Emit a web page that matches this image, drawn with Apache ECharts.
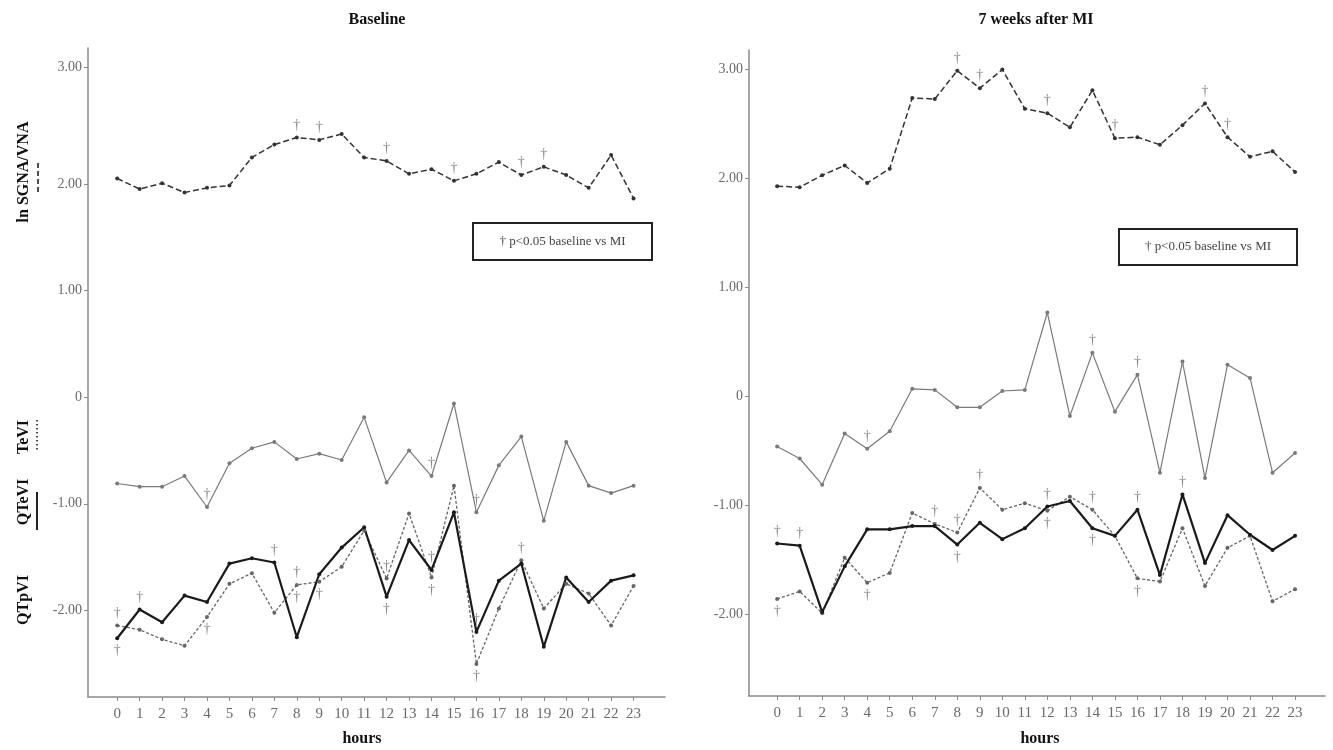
<!DOCTYPE html>
<html>
<head>
<meta charset="utf-8">
<script src="https://cdn.jsdelivr.net/npm/echarts@6/dist/echarts.min.js"></script>
<style>
  html, body { margin: 0; padding: 0; background: #fff; }
  #chart { width: 1333px; height: 750px; }
</style>
</head>
<body>
<div id="chart"></div>
<script>
// Hours of the day (x axis)
const hours = Array.from({ length: 24 }, (_, i) => i);

// Baseline
const baseSgna  = [2.05, 1.96, 2.01, 1.93, 1.97, 1.99, 2.23, 2.34, 2.40, 2.38, 2.43, 2.23, 2.20, 2.09, 2.13, 2.03, 2.09, 2.19, 2.08, 2.15, 2.08, 1.97, 2.25, 1.88];
const baseTeVI  = [-0.81, -0.84, -0.84, -0.74, -1.03, -0.62, -0.48, -0.42, -0.58, -0.53, -0.59, -0.19, -0.80, -0.50, -0.74, -0.06, -1.08, -0.64, -0.37, -1.16, -0.42, -0.83, -0.90, -0.83];
const baseQTeVI = [-2.26, -1.99, -2.11, -1.86, -1.92, -1.56, -1.51, -1.55, -2.25, -1.66, -1.41, -1.22, -1.87, -1.34, -1.62, -1.08, -2.20, -1.72, -1.56, -2.34, -1.69, -1.92, -1.72, -1.67];
const baseQTpVI = [-2.14, -2.18, -2.27, -2.33, -2.06, -1.75, -1.65, -2.02, -1.76, -1.73, -1.59, -1.25, -1.70, -1.09, -1.69, -0.83, -2.50, -1.98, -1.53, -1.98, -1.75, -1.84, -2.14, -1.77];

// 7 weeks after MI
const miSgna  = [1.93, 1.92, 2.03, 2.12, 1.96, 2.09, 2.74, 2.73, 2.99, 2.83, 3.00, 2.64, 2.60, 2.47, 2.81, 2.37, 2.38, 2.31, 2.49, 2.69, 2.38, 2.20, 2.25, 2.06];
const miTeVI  = [-0.46, -0.57, -0.81, -0.34, -0.48, -0.32, 0.07, 0.06, -0.10, -0.10, 0.05, 0.06, 0.77, -0.18, 0.40, -0.14, 0.20, -0.70, 0.32, -0.75, 0.29, 0.17, -0.70, -0.52];
const miQTeVI = [-1.35, -1.37, -1.98, -1.56, -1.22, -1.22, -1.19, -1.19, -1.36, -1.16, -1.31, -1.21, -1.01, -0.96, -1.21, -1.28, -1.04, -1.64, -0.90, -1.53, -1.09, -1.27, -1.41, -1.28];
const miQTpVI = [-1.86, -1.79, -1.99, -1.48, -1.71, -1.62, -1.07, -1.17, -1.25, -0.84, -1.04, -0.98, -1.05, -0.92, -1.04, -1.28, -1.67, -1.70, -1.21, -1.74, -1.39, -1.28, -1.88, -1.77];

// Hours marked † (p<0.05 baseline vs MI), placed above or below a series point
const baseSgnaSigAbove  = [8, 9, 12, 15, 18, 19];
const baseTeVISigAbove  = [4, 14, 16];
const baseQTeVISigAbove = [1, 7, 14, 16];
const baseQTeVISigBelow = [0, 12];
const baseQTpVISigAbove = [0, 8, 12, 18];
const baseQTpVISigBelow = [4, 8, 9, 14, 16];

const miSgnaSigAbove  = [8, 9, 12, 15, 19, 20];
const miTeVISigAbove  = [4, 14, 16];
const miQTeVISigAbove = [0, 1, 12, 16, 18];
const miQTeVISigBelow = [8, 14];
const miQTpVISigAbove = [7, 8, 9, 14];
const miQTpVISigBelow = [0, 4, 12, 16];

// Axis tick labels
const xTicks = hours;
const baseYTicksUpper = [3, 2];
const baseYTicksLower = [1, 0, -1, -2];
const miYTicks = [3, 2, 1, 0, -1, -2];

const panelTitles = ['Baseline', '7 weeks after MI'];
const noteText = '† p<0.05 baseline vs MI';

const SERIF = '"Liberation Serif", "DejaVu Serif", "Times New Roman", serif';
const AXIS_GREY = '#8a8a8a';
const LABEL_GREY = '#6a6a6a';

const fmtY = v => (v === 0 ? '0' : v.toFixed(2));
const pairs = vals => vals.map((v, i) => [hours[i], v]);

const styles = {
  sgna:  { color: '#333', width: 1.5, type: [6, 3] },
  tevi:  { color: '#7a7a7a', width: 1.2, type: 'solid' },
  qtevi: { color: '#1a1a1a', width: 2.2, type: 'solid' },
  qtpvi: { color: '#666', width: 1.3, type: [3, 2] }
};

function lineSeries(name, vals, st, xi, yi) {
  return {
    name, type: 'line', xAxisIndex: xi, yAxisIndex: yi,
    data: pairs(vals),
    symbol: 'circle', symbolSize: 4,
    itemStyle: { color: st.color },
    lineStyle: { color: st.color, width: st.width, type: st.type },
    z: 3, animation: false
  };
}

function daggerSeries(vals, sigHours, where, xi, yi) {
  return {
    type: 'scatter', xAxisIndex: xi, yAxisIndex: yi,
    data: sigHours.map(h => [h, vals[h]]),
    symbol: 'circle', symbolSize: 1,
    itemStyle: { color: 'rgba(0,0,0,0)' },
    label: {
      show: true, formatter: '†', position: where === 'above' ? 'top' : 'bottom',
      distance: 5, fontFamily: SERIF, fontSize: 14, color: '#666'
    },
    silent: true, z: 4, animation: false
  };
}

function xAxisFor(gi, min, max) {
  return {
    type: 'value', gridIndex: gi, min, max,
    axisLine: { show: true, onZero: false, lineStyle: { color: AXIS_GREY, width: 1.5 } },
    axisTick: { show: true, customValues: xTicks, length: 4, lineStyle: { color: AXIS_GREY } },
    axisLabel: { customValues: xTicks, fontFamily: SERIF, fontSize: 15, color: LABEL_GREY, margin: 10 },
    splitLine: { show: false }
  };
}

function yAxisFor(gi, min, max, ticks, showLine) {
  return {
    type: 'value', gridIndex: gi, min, max, position: 'left',
    axisLine: { show: showLine, onZero: false, lineStyle: { color: AXIS_GREY, width: 1.5 } },
    axisTick: { show: true, customValues: ticks, length: 4, lineStyle: { color: AXIS_GREY } },
    axisLabel: { customValues: ticks, formatter: fmtY, fontFamily: SERIF, fontSize: 14, color: LABEL_GREY, margin: 6 },
    splitLine: { show: false }
  };
}

const series = [
  lineSeries('ln SGNA/VNA', baseSgna, styles.sgna, 0, 1),
  lineSeries('TeVI', baseTeVI, styles.tevi, 0, 0),
  lineSeries('QTpVI', baseQTpVI, styles.qtpvi, 0, 0),
  lineSeries('QTeVI', baseQTeVI, styles.qtevi, 0, 0),
  daggerSeries(baseSgna, baseSgnaSigAbove, 'above', 0, 1),
  daggerSeries(baseTeVI, baseTeVISigAbove, 'above', 0, 0),
  daggerSeries(baseQTeVI, baseQTeVISigAbove, 'above', 0, 0),
  daggerSeries(baseQTeVI, baseQTeVISigBelow, 'below', 0, 0),
  daggerSeries(baseQTpVI, baseQTpVISigAbove, 'above', 0, 0),
  daggerSeries(baseQTpVI, baseQTpVISigBelow, 'below', 0, 0),

  lineSeries('ln SGNA/VNA', miSgna, styles.sgna, 1, 2),
  lineSeries('TeVI', miTeVI, styles.tevi, 1, 2),
  lineSeries('QTpVI', miQTpVI, styles.qtpvi, 1, 2),
  lineSeries('QTeVI', miQTeVI, styles.qtevi, 1, 2),
  daggerSeries(miSgna, miSgnaSigAbove, 'above', 1, 2),
  daggerSeries(miTeVI, miTeVISigAbove, 'above', 1, 2),
  daggerSeries(miQTeVI, miQTeVISigAbove, 'above', 1, 2),
  daggerSeries(miQTeVI, miQTeVISigBelow, 'below', 1, 2),
  daggerSeries(miQTpVI, miQTpVISigAbove, 'above', 1, 2),
  daggerSeries(miQTpVI, miQTpVISigBelow, 'below', 1, 2)
];

const titleStyle = { fontFamily: SERIF, fontSize: 16, fontWeight: 'bold', fill: '#111' };
const axisNameStyle = { fontFamily: SERIF, fontSize: 16, fontWeight: 'bold', fill: '#111' };

function vText(text, x, y) {
  return {
    type: 'text', x, y, rotation: Math.PI / 2,
    style: Object.assign({ text, align: 'center', verticalAlign: 'middle' }, axisNameStyle)
  };
}
function vMark(x, y1, y2, dash, width) {
  return {
    type: 'line', shape: { x1: x, y1, x2: x, y2 },
    style: { stroke: '#222', lineWidth: width, lineDash: dash }
  };
}
function noteBox(x, y, w, h) {
  return [
    { type: 'rect', shape: { x, y, width: w, height: h }, style: { fill: '#fff', stroke: '#222', lineWidth: 2 } },
    { type: 'text', x: x + w / 2, y: y + h / 2,
      style: { text: noteText, align: 'center', verticalAlign: 'middle', fontFamily: SERIF, fontSize: 13, fill: '#444' } }
  ];
}

const graphic = [
  { type: 'text', x: 377, y: 20, style: Object.assign({ text: panelTitles[0], align: 'center', verticalAlign: 'middle' }, titleStyle) },
  { type: 'text', x: 1036, y: 20, style: Object.assign({ text: panelTitles[1], align: 'center', verticalAlign: 'middle' }, titleStyle) },
  { type: 'text', x: 362, y: 739, style: Object.assign({ text: 'hours', align: 'center', verticalAlign: 'middle' }, titleStyle) },
  { type: 'text', x: 1040, y: 739, style: Object.assign({ text: 'hours', align: 'center', verticalAlign: 'middle' }, titleStyle) },
  vText('ln SGNA/VNA', 24, 172),
  vMark(38, 163, 192, [5, 3], 1.6),
  vText('TeVI', 24, 437),
  vMark(37, 420, 452, [1.5, 2.5], 1.6),
  vText('QTeVI', 24, 502),
  vMark(37, 492, 530, null, 2),
  vText('QTpVI', 24, 600)
].concat(noteBox(473, 223, 179, 37), noteBox(1119, 229, 178, 36));

const option = {
  backgroundColor: '#fff',
  animation: false,
  grid: [
    { left: 88, right: 668, top: 48, bottom: 53 },
    { left: 749, right: 8, top: 50, bottom: 54 }
  ],
  xAxis: [xAxisFor(0, -1.3, 24.4), xAxisFor(1, -1.25, 24.33)],
  yAxis: [
    yAxisFor(0, -2.81, 3.27, baseYTicksLower, true),
    yAxisFor(0, -2.38, 3.165, baseYTicksUpper, false),
    yAxisFor(1, -2.75, 3.18, miYTicks, true)
  ],
  series,
  graphic
};

echarts.init(document.getElementById('chart'), null, { renderer: 'canvas' }).setOption(option);
</script>
</body>
</html>
